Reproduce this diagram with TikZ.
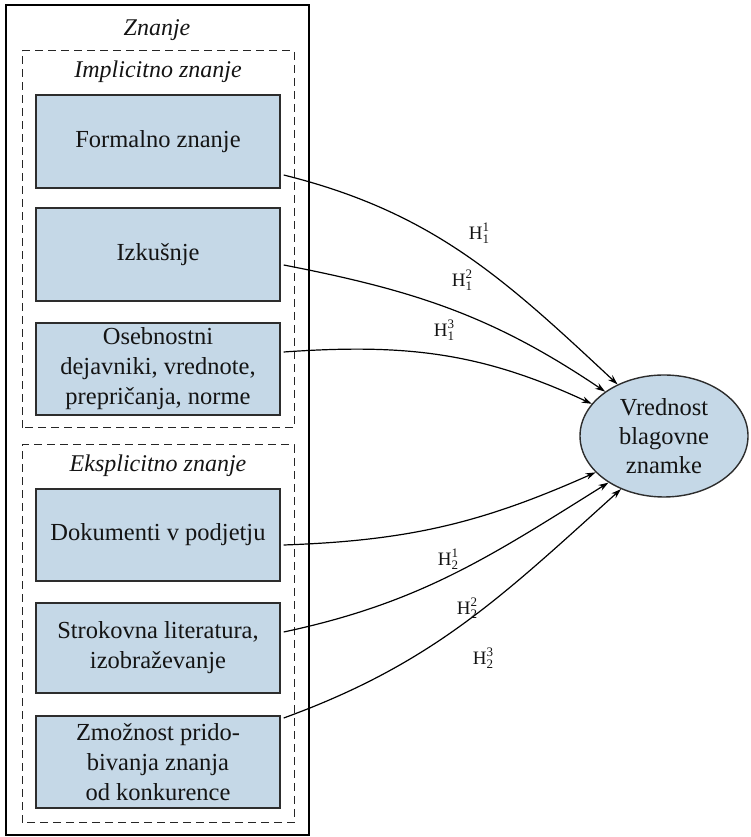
\documentclass[tikz,border=0pt]{standalone}
\usepackage{fontspec}
\setmainfont{Liberation Serif}
\usetikzlibrary{shapes.geometric,arrows.meta}
\definecolor{boxblue}{RGB}{197,216,231}
\definecolor{edgegray}{RGB}{45,45,45}
\definecolor{textdark}{RGB}{20,20,20}
\newcommand{\hypo}[2]{H\rlap{\raisebox{7.5pt}{\fontsize{13}{13}\selectfont #2}}\raisebox{-4pt}{\fontsize{13}{13}\selectfont #1}}
\begin{document}
\begin{tikzpicture}[x=1pt,y=1pt,
  kbox/.style={draw=edgegray, line width=1.4pt, fill=boxblue, minimum width=244pt,
    minimum height=92pt, inner sep=0pt, align=center, text=textdark,
    font=\fontsize{24.5}{30}\selectfont},
  target/.style={ellipse, draw=edgegray, line width=1.4pt, fill=boxblue,
    minimum width=168pt, minimum height=122pt, inner sep=0pt, align=center,
    text=textdark, font=\fontsize{24.5}{29}\selectfont},
  title/.style={font=\fontsize{24}{28}\selectfont\itshape, text=textdark, inner sep=0pt},
  outerbox/.style={draw=black, line width=1.3pt},
  dashbox/.style={draw=black!85, line width=1pt, dash pattern=on 8pt off 5pt},
  conn/.style={line width=1.2pt, draw=black, -{Stealth[length=10pt,width=6.5pt]}},
  hlab/.style={font=\fontsize{19}{20}\selectfont, text=textdark, inner sep=0pt}]
\useasboundingbox (0,0) rectangle (751,837);

% frames
\draw[outerbox] (6,2) rectangle (309,832);
\draw[dashbox] (22,409) rectangle (294,786);
\draw[dashbox] (22,14) rectangle (294,392);

% titles
\node[title] (tz) at (157,807) {Znanje};
\node[title] (ti) at (158,765) {Implicitno znanje};
\node[title] (te) at (158,371) {Eksplicitno znanje};

% boxes
\node[kbox, minimum height=93pt] (b1) at (158,695.5) {Formalno znanje};
\node[kbox, minimum height=93pt] (b2) at (158,582.5) {Izkušnje};
\node[kbox] (b3) at (158,468) {Osebnostni\\dejavniki, vrednote,\\prepričanja, norme};
\node[kbox] (b4) at (158,302) {Dokumenti v podjetju};
\node[kbox, minimum height=90pt] (b5) at (158,189) {Strokovna literatura,\\izobraževanje};
\node[kbox] (b6) at (158,75) {Zmožnost prido-\\bivanja znanja\\od konkurence};

% target
\node[target] (v) at (664,401) {Vrednost\\blagovne\\znamke};

% start points
\coordinate (s1) at ([xshift=3pt,yshift=-33.5pt]b1.east);
\coordinate (s2) at ([xshift=3pt,yshift=-10.5pt]b2.east);
\coordinate (s3) at ([xshift=3pt,yshift=17pt]b3.east);
\coordinate (s4) at ([xshift=3pt,yshift=-10pt]b4.east);
\coordinate (s5) at ([xshift=3pt,yshift=16pt]b5.east);
\coordinate (s6) at ([xshift=3pt,yshift=44pt]b6.east);

% connectors
\draw[conn] (s1) to[out=-14, in=137] (v.132.8);
\draw[conn] (s2) to[out=-11, in=146] (v.143.4);
\draw[conn] (s3) to[out=4, in=155] (v.156.5);
\draw[conn] (s4) to[out=2, in=-156] (v.208.4);
\draw[conn] (s5) to[out=12, in=-148] (v.220.8);
\draw[conn] (s6) to[out=20, in=-138] (v.231.1);

% labels
\node[hlab] (h11) at (479,604) {\hypo{1}{1}};
\node[hlab] (h12) at (462,557) {\hypo{1}{2}};
\node[hlab] (h13) at (444,507) {\hypo{1}{3}};
\node[hlab] (h21) at (448,278) {\hypo{2}{1}};
\node[hlab] (h22) at (467,229) {\hypo{2}{2}};
\node[hlab] (h23) at (483,179) {\hypo{2}{3}};
\end{tikzpicture}
\end{document}
